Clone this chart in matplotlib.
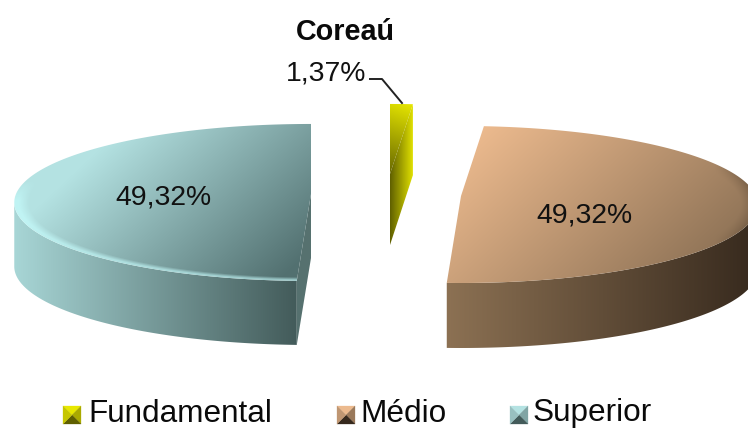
import numpy as np
import matplotlib
matplotlib.use('Agg')
import matplotlib.pyplot as plt
from matplotlib.colors import to_rgb
from matplotlib.patches import Polygon

plt.rcParams['font.family'] = ['Liberation Sans', 'DejaVu Sans']

title = 'Coreaú'
categories = ['Fundamental', 'Médio', 'Superior']
values = [1.37, 49.32, 49.32]
value_labels = ['1,37%', '49,32%', '49,32%']

# pie centre of each exploded slice, in pixels, and wall height
centers = [(390, 174), (461, 196), (311, 194)]
heights = [71, 65, 64]
label_pos = [(326, 73), (584, 216), (163, 197)]
legend_marker_x = [63, 337, 510]
legend_text_x = [88, 360, 533]

# top face gradient: two colours and the line they run along
top_colors = [('#e8e800', '#666600'), ('#ecba8e', '#8c7155'), ('#b4e2e2', '#527070')]
top_lines = [((414, 104), (389, 174)), ((480, 130), (660, 320)), ((120, 130), (270, 290))]
wall_colors = [('#5f5f00', '#e0e000'), ('#8c7153', '#36291d'), ('#a8d6d6', '#435b5a')]
cut_colors = ['#a0a000', '#8c7153', '#56716f']
rim_colors = [None, '#6e5740', '#c8ffff']
rim_x_fade = [0, 1, 0]

# perspective of the disc
RX = 295.0
SY = 77.6
K = 0.108
A = RX / np.sqrt(1 - K ** 2)
B = SY / (1 - K ** 2)
EY = K * SY / (1 - K ** 2)


def project(theta, center):
    # angle clockwise from 12 o'clock, far side is squeezed
    u, v = np.sin(theta), np.cos(theta)
    w = 1 + K * v
    return center[0] + RX * u / w, center[1] - SY * v / w


def gradient_image(ax, poly, c0, c1, p0, p1, zorder, rim=None, center=None, x_fade=0):
    xs, ys = poly[:, 0], poly[:, 1]
    x0, x1 = int(xs.min()) - 1, int(xs.max()) + 2
    y0, y1 = int(ys.min()) - 1, int(ys.max()) + 2
    gx, gy = np.meshgrid(np.arange(x0, x1) + 0.5, np.arange(y0, y1) + 0.5)
    d = np.array(p1, float) - np.array(p0, float)
    t = ((gx - p0[0]) * d[0] + (gy - p0[1]) * d[1]) / (d @ d)
    t = np.clip(t, 0, 1)[..., None]
    img = np.array(to_rgb(c0)) * (1 - t) + np.array(to_rgb(c1)) * t
    if rim is not None:
        cy = center[1] + EY
        r = np.hypot((gx - center[0]) / A, (gy - cy) / B)
        if x_fade:
            wgt = np.clip((r - 0.94) / 0.06, 0, 1) * 0.8
            wgt = wgt * np.clip((gx - center[0]) / A * 8 - 6.8, 0, 1)
        else:
            wgt = np.clip((r - 0.95) / 0.035, 0, 1) * 0.6
            wgt = wgt * np.clip((gy - (cy - 22)) / 20, 0, 1)
        img = img * (1 - wgt[..., None]) + np.array(to_rgb(rim)) * wgt[..., None]
    patch = Polygon(poly, closed=True, fc='none', ec='none', transform=ax.transData)
    ax.add_patch(patch)
    im = ax.imshow(img, extent=(x0, x1, y1, y0), aspect='auto', zorder=zorder,
                   interpolation='bilinear')
    im.set_clip_path(patch)


def draw_slice(ax, i, start, end):
    cx, cy = centers[i]
    h = heights[i]
    th = np.linspace(start, end, 240)
    rx, ry = project(th, centers[i])

    # outer wall, only the part that faces us
    front = np.cos(th) < -K
    if front.any():
        fx, fy = rx[front], ry[front]
        wall = np.vstack([np.c_[fx, fy], np.c_[fx[::-1], fy[::-1] + h]])
        left = (cx - A, 0) if i == 2 else (cx - 14, 0)
        right = (cx - 14, 0) if i == 2 else (cx + A, 0)
        gradient_image(ax, wall, wall_colors[i][0], wall_colors[i][1], left, right, 2)

    # cut walls
    for a in (start, end):
        visible = (a == start and np.sin(a) < -1e-6) or (a == end and np.sin(a) > 1e-6)
        if not visible:
            continue
        qx, qy = project(a, centers[i])
        quad = np.array([(cx, cy), (qx, qy), (qx, qy + h), (cx, cy + h)])
        if i == 0:
            gradient_image(ax, quad, wall_colors[i][0], wall_colors[i][1],
                           (cx, 0), (qx, 0), 3)
        else:
            ax.add_patch(Polygon(quad, closed=True, fc=cut_colors[i], ec='none', zorder=3))

    # top face
    top = np.vstack([[cx, cy], np.c_[rx, ry]])
    p0, p1 = top_lines[i]
    gradient_image(ax, top, top_colors[i][0], top_colors[i][1], p0, p1, 4,
                   rim=rim_colors[i], center=centers[i], x_fade=rim_x_fade[i])


def legend_marker(ax, x, y, size, c_top, c_bottom):
    # little pyramid, four triangles with a lit top
    mid = (x + size / 2, y + size / 2)
    a, b, c, d = (x, y), (x + size, y), (x + size, y + size), (x, y + size)
    top = np.array(to_rgb(c_top))
    bot = np.array(to_rgb(c_bottom))
    faces = [((a, b, mid), top), ((b, c, mid), top * 0.55 + bot * 0.45),
             ((c, d, mid), bot), ((d, a, mid), top * 0.75 + bot * 0.25)]
    for pts, col in faces:
        ax.add_patch(Polygon(pts, closed=True, fc=col, ec=col, lw=0.2, zorder=5))


fig = plt.figure(figsize=(7.48, 4.29), dpi=100)
ax = fig.add_axes([0, 0, 1, 1])

total = sum(values)
angle = 0.0
for i, v in enumerate(values):
    sweep = 2 * np.pi * v / total
    draw_slice(ax, i, angle, angle + sweep)
    angle += sweep

ax.set_xlim(0, 748)
ax.set_ylim(429, 0)
ax.axis('off')

ax.text(345, 32, title, fontsize=20.7, fontweight='bold', ha='center', va='center', color='#0a0a0a')
for pos, lab in zip(label_pos, value_labels):
    ax.text(pos[0], pos[1], lab, fontsize=20.4, ha='center', va='center', color='#111111', zorder=6)

ax.plot([370, 382, 402], [79, 79, 103], color='#222222', lw=1.4, zorder=6)

for i, name in enumerate(categories):
    legend_marker(ax, legend_marker_x[i], 406, 18, top_colors[i][0], wall_colors[i][int(i > 0)])
    ax.text(legend_text_x[i], 413.5, name, fontsize=22.7, ha='left', va='center', color='#0a0a0a')

fig.savefig('out.png', dpi=100)
